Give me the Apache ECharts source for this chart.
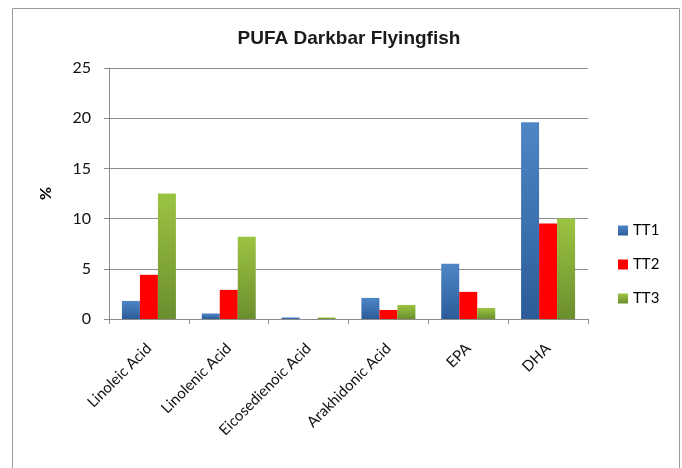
<!DOCTYPE html>
<html>
<head>
<meta charset="utf-8">
<style>
  html, body { margin: 0; padding: 0; background: #fff; }
  #chart { width: 682px; height: 468px; }
</style>
<script src="https://cdn.jsdelivr.net/npm/echarts@6/dist/echarts.min.js"></script>
</head>
<body>
<div id="chart"></div>
<script>
// Fatty acid categories (x axis)
const categories = ['Linoleic Acid', 'Linolenic Acid', 'Eicosedienoic Acid', 'Arakhidonic Acid', 'EPA', 'DHA'];

// Percent values per treatment
const tt1 = [1.8, 0.55, 0.15, 2.1, 5.5, 19.6];
const tt2 = [4.4, 2.9, 0.0, 0.9, 2.7, 9.5];
const tt3 = [12.5, 8.2, 0.15, 1.4, 1.1, 10.0];

// Y axis ticks
const yTicks = [0, 5, 10, 15, 20, 25];

const labelFont = 'Lato, "Open Sans", sans-serif';

function vGrad(top, bottom) {
  return new echarts.graphic.LinearGradient(0, 0, 0, 1, [
    { offset: 0, color: top },
    { offset: 1, color: bottom }
  ]);
}

const chart = echarts.init(document.getElementById('chart'), null, { renderer: 'canvas' });

chart.setOption({
  animation: false,
  backgroundColor: '#ffffff',
  title: {
    text: 'PUFA Darkbar Flyingfish',
    left: 344,
    top: 24,
    textAlign: 'center',
    textStyle: {
      fontFamily: '"Liberation Sans", Arial, sans-serif',
      fontSize: 19,
      fontWeight: 'bold',
      color: '#1a1a1a'
    }
  },
  graphic: [{
    type: 'rect',
    shape: { x: 12.5, y: 8.5, width: 667, height: 480 },
    style: { fill: 'none', stroke: '#9a9a9a', lineWidth: 1 },
    silent: true,
    z: -1
  }],
  legend: {
    orient: 'vertical',
    left: 613,
    top: 218,
    itemWidth: 10,
    itemHeight: 10,
    itemGap: 19,
    icon: 'rect',
    textStyle: { fontFamily: labelFont, fontSize: 15, color: '#000' },
    data: ['TT1', 'TT2', 'TT3']
  },
  grid: { left: 109, right: 94, top: 68, bottom: 149, containLabel: false },
  xAxis: {
    type: 'category',
    data: categories,
    axisLine: { lineStyle: { color: '#8c8c8c', width: 1 } },
    axisTick: { show: true, length: 5, lineStyle: { color: '#8c8c8c' } },
    axisLabel: {
      rotate: 45,
      interval: 0,
      margin: 27,
      fontFamily: labelFont,
      fontSize: 15,
      color: '#111'
    }
  },
  yAxis: {
    type: 'value',
    min: yTicks[0],
    max: yTicks[yTicks.length - 1],
    interval: 5,
    name: '%',
    nameLocation: 'middle',
    nameGap: 55,
    nameRotate: 90,
    nameTextStyle: { fontFamily: labelFont, fontSize: 16, fontWeight: 'bold', color: '#000' },
    axisLine: { show: true, lineStyle: { color: '#8c8c8c', width: 1 } },
    axisTick: { show: true, length: 5, lineStyle: { color: '#8c8c8c' } },
    splitLine: { show: true, lineStyle: { color: '#8c8c8c', width: 1 } },
    axisLabel: {
      margin: 18,
      fontFamily: labelFont,
      fontSize: 16,
      color: '#111'
    }
  },
  series: [
    {
      name: 'TT1', type: 'bar', data: tt1, barWidth: 18, barGap: '0%',
      itemStyle: { color: vGrad('#4f86c6', '#2b5c99') }
    },
    {
      name: 'TT2', type: 'bar', data: tt2, barWidth: 18, barGap: '0%',
      itemStyle: { color: '#ff0000' }
    },
    {
      name: 'TT3', type: 'bar', data: tt3, barWidth: 18, barGap: '0%',
      itemStyle: { color: vGrad('#9cc442', '#6b8e2e') }
    }
  ]
});
</script>
</body>
</html>
